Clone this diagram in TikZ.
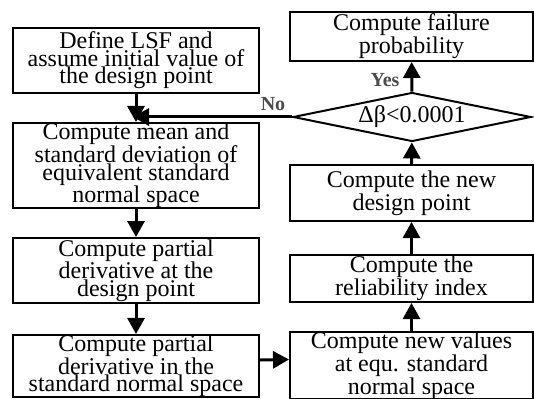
\documentclass[tikz,border=0pt]{standalone}
\usepackage{fontspec}
\setmainfont{Liberation Serif}
\usetikzlibrary{arrows.meta,shapes.geometric}
\tikzset{
  box/.style={draw, line width=2pt, rectangle, inner sep=0pt, align=center,
    font=\fontsize{24}{17.5}\selectfont},
  lbox/.style={box, minimum width=246pt},
  rbox/.style={box, minimum width=243pt},
  arr/.style={line width=3pt, -{Triangle[length=16pt,width=17pt]}},
  lbl/.style={font=\bfseries\fontsize{20}{20}\selectfont, text=black!70}
}
\begin{document}
\begin{tikzpicture}[x=1pt,y=-1pt]
\useasboundingbox (0,0) rectangle (534,398);
\node[lbox, minimum height=65pt] (b1) at (136,60.5) {Define LSF and\\assume initial value of\\the design point};
\node[lbox, minimum height=81pt] (b2) at (136,165.5) {Compute mean and\\standard deviation of\\equivalent standard\\normal space};
\node[lbox, minimum height=65pt] (b3) at (136,270.5) {Compute partial\\derivative at the\\design point};
\node[lbox, minimum height=62pt] (b4) at (136,366) {Compute partial\\derivative in the\\standard normal space};
\node[rbox, minimum height=49pt] (fail) at (411.5,36.5) {Compute failure\\probability};
\node[draw, line width=2pt, diamond, inner sep=0pt, aspect=4.86, minimum width=238pt, minimum height=49pt,
  font=\fontsize{24}{17}\selectfont] (dia) at (412,117) {Δβ<0.0001};
\node[rbox, minimum height=56pt] (ndp) at (411.5,193) {Compute the new\\design point};
\node[rbox, minimum height=47pt] (rel) at (411.5,278.5) {Compute the\\reliability index};
\node[rbox, minimum height=62pt] (nv) at (411.5,365.5) {Compute new values\\at equ. standard\\normal space};
\coordinate (j) at (133,117);
\draw[arr] (b1) -- (b2);
\draw[arr] (b2) -- (b3);
\draw[arr] (b3) -- (b4);
\draw[arr] ([yshift=6pt]b4.east) -- ([yshift=6pt]nv.west);
\draw[arr] (nv) -- (rel);
\draw[arr] (rel) -- (ndp);
\draw[arr] (ndp) -- (dia);
\draw[arr] (dia) -- (fail);
\draw[arr] (dia.west) -- (j);
\node[lbl] (yes) at (385,80) {Yes};
\node[lbl] (no) at (273,104) {No};
\end{tikzpicture}
\end{document}
